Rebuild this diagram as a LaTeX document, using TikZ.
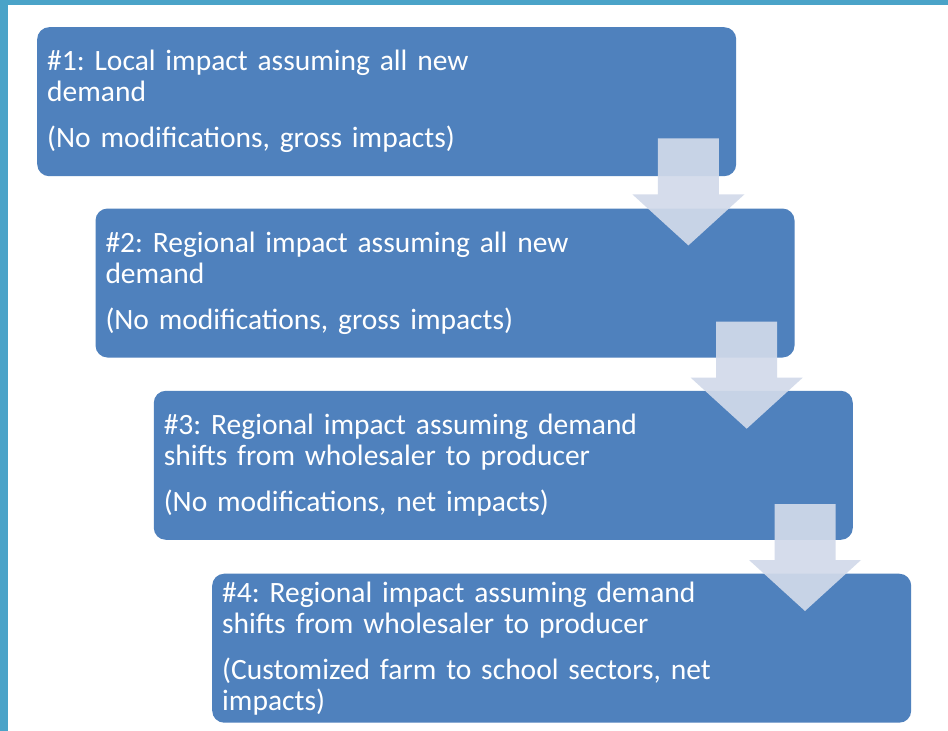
\documentclass[tikz,border=0pt]{standalone}
\usepackage{fontspec}
\setmainfont{Carlito}
\usetikzlibrary{calc}
\definecolor{boxblue}{RGB}{79,129,189}
\definecolor{framebar}{RGB}{74,163,200}
\definecolor{arrowfill}{RGB}{210,218,234}
\tikzset{
  stagebox/.style={rounded corners=12pt, fill=boxblue, draw=none, text=white,
    inner xsep=10pt, inner ysep=0pt, text width=679pt, minimum height=149pt,
    align=left, anchor=north west, font=\fontsize{29.5pt}{31pt}\selectfont\frenchspacing},
  blockarrow/.pic={\fill[arrowfill, fill opacity=0.92]
    (-30.5,0) -- (30.5,0) -- (30.5,56) -- (56,56) -- (0,107) -- (-56,56) -- (-30.5,56) -- cycle;}
}
\begin{document}
\begin{tikzpicture}[x=1pt,y=-1pt]
\useasboundingbox (0,0) rectangle (948,731);
\fill[white] (0,0) rectangle (948,731);
\fill[framebar] (0,0) rectangle (948,5);
\fill[framebar] (0,0) rectangle (7.5,731);
\node[stagebox] (b1) at (37,27) {\#1: Local impact assuming all new\\demand\\[15pt](No modifications, gross impacts)};
\node[stagebox] (b2) at (95.3,208.3) {\#2: Regional impact assuming all new\\demand\\[15pt](No modifications, gross impacts)};
\node[stagebox] (b3) at (153.6,390.6) {\#3: Regional impact assuming demand\\shifts from wholesaler to producer\\[15pt](No modifications, net impacts)};
\node[stagebox] (b4) at (212,573.5) {\#4: Regional impact assuming demand\\shifts from wholesaler to producer\\[15pt](Customized farm to school sectors, net\\impacts)};
\pic at ($(b1.south east)+(-48,-38)$) {blockarrow};
\pic at ($(b2.south east)+(-48,-36)$) {blockarrow};
\pic at ($(b3.south east)+(-48,-36)$) {blockarrow};
\end{tikzpicture}
\end{document}
